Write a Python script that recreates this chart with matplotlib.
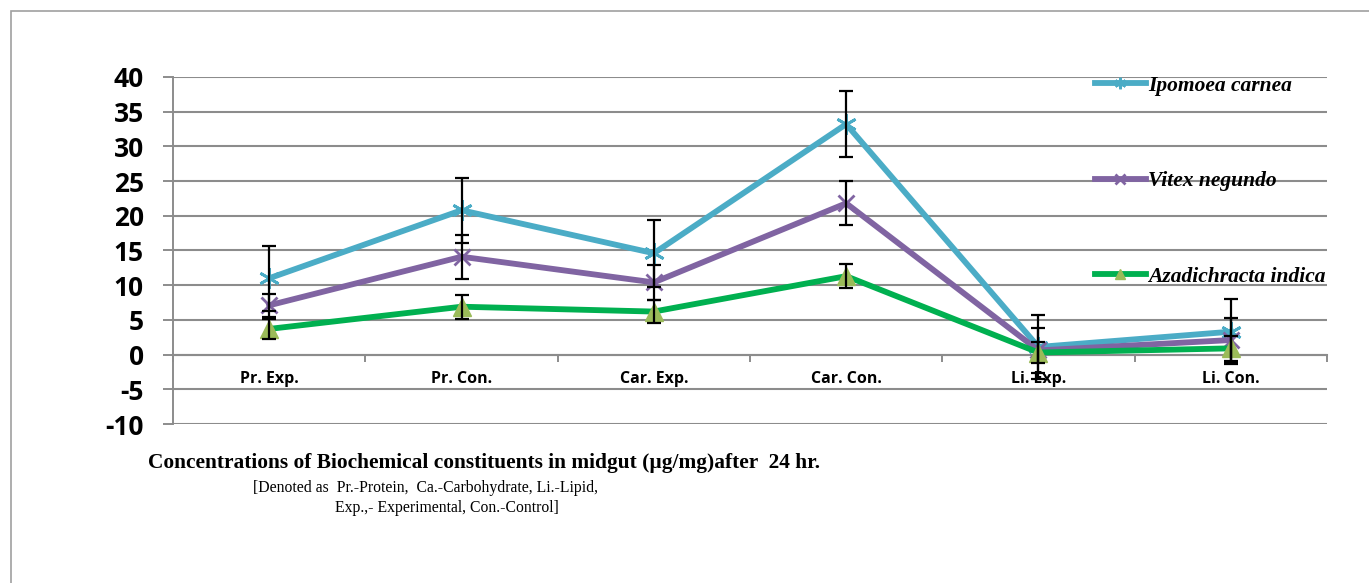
import numpy as np
import matplotlib
matplotlib.use('Agg')
from matplotlib import pyplot as plt
from matplotlib.patches import Rectangle

# categories and values
categories = ['Pr. Exp.', 'Pr. Con.', 'Car. Exp.', 'Car. Con.', 'Li. Exp.', 'Li. Con.']
ipomoea = [11.0, 20.8, 14.6, 33.2, 1.1, 3.3]
ipomoea_err = [4.7, 4.7, 4.8, 4.8, 4.6, 4.7]
vitex = [7.1, 14.1, 10.4, 21.8, 0.6, 2.1]
vitex_err = [1.7, 3.2, 2.5, 3.2, 3.3, 3.2]
azadirachta = [3.7, 6.9, 6.2, 11.3, 0.3, 0.9]
azadirachta_err = [1.5, 1.7, 1.7, 1.7, 1.5, 1.8]
yticks = [-10, -5, 0, 5, 10, 15, 20, 25, 30, 35, 40]

fig = plt.figure(figsize=(13.69, 5.83), dpi=100)
ax = fig.add_axes([0.1264, 0.2727, 0.9693 - 0.1264, 0.868 - 0.2727])

x = np.arange(len(categories))

ax.plot(x, ipomoea, color='#4BACC6', lw=4.2, marker=(6, 2, 0), ms=15, mew=2,
        label='Ipomoea carnea', zorder=3)
ax.plot(x, vitex, color='#8064A2', lw=4.2, marker='x', ms=12, mew=2,
        label='Vitex negundo', zorder=3)
ax.plot(x, azadirachta, color='#00B050', lw=4.2, marker='^', ms=13,
        mfc='#9BBB59', mec='#9BBB59', label='Azadichracta indica', zorder=3)

for vals, errs in [(ipomoea, ipomoea_err), (vitex, vitex_err), (azadirachta, azadirachta_err)]:
    ax.errorbar(x, vals, yerr=errs, fmt='none', ecolor='black', elinewidth=1.6,
                capsize=5, capthick=1.6, zorder=4)

ax.set_xlim(-0.5, len(categories) - 0.5)
ax.set_ylim(-10, 40)
ax.set_yticks(yticks)
ax.set_yticklabels([str(t) for t in yticks], fontsize=19, fontweight='bold', family='Open Sans')
ax.tick_params(axis='y', length=7, color='#8c8c8c', width=1.4, pad=14)

ax.yaxis.grid(True, color='#8c8c8c', lw=1.5)
ax.set_axisbelow(True)

# category axis sits at zero
ax.spines['bottom'].set_position(('data', 0))
ax.spines['bottom'].set_color('#8c8c8c')
ax.spines['bottom'].set_linewidth(1.5)
ax.spines['left'].set_color('#8c8c8c')
ax.spines['left'].set_linewidth(1.4)
ax.spines['top'].set_visible(False)
ax.spines['right'].set_visible(False)
ax.set_xticks(x)
ax.set_xticklabels(categories, fontsize=11.5, fontweight='bold', family='Open Sans')
ax.set_xticks(np.arange(len(categories) + 1) - 0.5, minor=True)
ax.tick_params(axis='x', which='major', length=0, pad=12)
ax.tick_params(axis='x', which='minor', length=5, color='#8c8c8c', width=1.4)

leg = ax.legend(loc='upper left', bbox_to_anchor=(1086 / 1369, 0.885), bbox_transform=fig.transFigure,
                frameon=False, handlelength=2.4, handletextpad=0.1, labelspacing=3.5,
                markerscale=0.55, borderaxespad=0,
                prop={'family': 'Liberation Serif', 'weight': 'bold', 'style': 'italic', 'size': 15.5})

fig.text(148 / 1369, 1 - 463 / 583, 'Concentrations of Biochemical constituents in midgut (µg/mg)after  24 hr.',
         family='Liberation Serif', weight='bold', fontsize=15.4, va='center', ha='left')
fig.text(253 / 1369, 1 - 488 / 583, '[Denoted as  Pr.-Protein,  Ca.-Carbohydrate, Li.-Lipid,',
         family='Liberation Serif', fontsize=11.3, va='center', ha='left')
fig.text(335 / 1369, 1 - 508 / 583, 'Exp.,- Experimental, Con.-Control]',
         family='Liberation Serif', fontsize=11.3, va='center', ha='left')

fig.patches.append(Rectangle((11 / 1369, -0.1), 1.2, 1 - 11 / 583 + 0.1, transform=fig.transFigure,
                             fill=False, edgecolor='#a0a0a0', lw=1.2))

fig.savefig('out.png', dpi=100)
